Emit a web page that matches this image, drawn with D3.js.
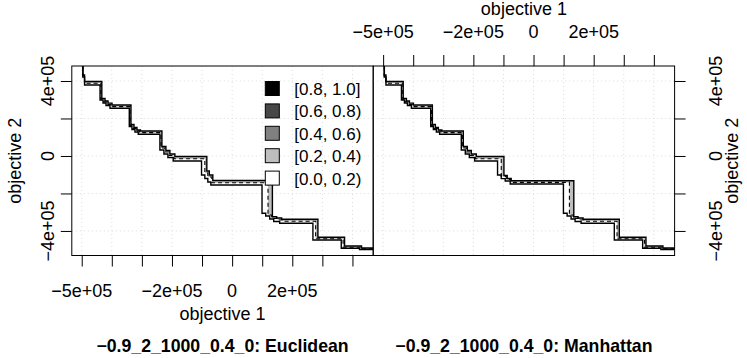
<!DOCTYPE html>
<html>
<head>
<meta charset="utf-8">
<script src="https://cdn.jsdelivr.net/npm/d3@7"></script>
<style>
  body { margin: 0; background: #fff; }
  text { font-family: "Liberation Sans", Arial, Helvetica, sans-serif; }
</style>
</head>
<body>
<div id="chart"></div>
<script>
// axis ticks / labels
const xTicks = [-5e5, -4e5, -3e5, -2e5, -1e5, 0, 1e5, 2e5, 3e5, 4e5];
const xTickLabels = [-5e5, -2e5, 0, 2e5];
const yTicks = [-4e5, -2e5, 0, 2e5, 4e5];
const yTickLabels = [-4e5, 0, 4e5];

const levels = ["[0.8, 1.0]", "[0.6, 0.8)", "[0.4, 0.6)", "[0.2, 0.4)", "[0.0, 0.2)"];
const levelColors = ["#000000", "#474747", "#808080", "#bebebe", "#ffffff"];
const panelTitles = ["\u22120.9_2_1000_0.4_0: Euclidean", "\u22120.9_2_1000_0.4_0: Manhattan"];

// attainment surfaces (objective 1, objective 2)
const euclidBest = [[-496500,421500],[-490600,378900],[-439100,298800],[-429200,282800],[-419200,269500],[-406000,254500],
  [-341900,156300],[-333000,141400],[-323000,128100],[-312100,115800],[-240100,32000],[-226800,10700],[-213500,-8000],
  [-195900,-26700],[-101700,-101400],[-90700,-120100],[-80800,-138700],[-70800,-154700],[99400,-305800],[111700,-320200],
  [124900,-336200],[138200,-349500],[158100,-359100],[268600,-448200],[362800,-492500],[423500,-498900]];
const euclidMedian = [[-496200,426900],[-490600,387900],[-436500,302600],[-425900,288100],[-415900,274800],[-402600,263100],
  [-339600,162700],[-329600,146700],[-319700,133400],[-308100,124300],[-236700,42700],[-223500,21300],[-210200,2700],
  [-193600,-14900],[-90700,-90700],[-80800,-112100],[-67500,-143000],[119300,-314800],[131600,-333500],[151500,-341500],
  [168100,-348400],[277600,-441300],[368800,-486600],[426900,-495200]];
const euclidWorst = [[-495900,432200],[-490600,397500],[-433200,306800],[-422500,293500],[-412600,281700],[-399300,272100],
  [-336300,168100],[-326300,152100],[-316400,138700],[-304800,133400],[-233400,50700],[-220100,29300],[-206900,10700],
  [-190300,-2700],[-84100,-80000],[-75800,-101400],[-64200,-130700],[133900,-323900],[148100,-330800],[164700,-337800],
  [285200,-433800],[373800,-480200],[430200,-490900]];

const manhatBest = [[-496500,421500],[-490600,378900],[-439100,298800],[-429200,282800],[-419200,269500],[-406000,254500],
  [-341900,156300],[-333000,141400],[-323000,128100],[-312100,115800],[-240100,32000],[-226800,10700],[-213500,-8000],
  [-195900,-26700],[-119600,-101400],[-107300,-120600],[-94100,-133400],[-77500,-149400],[99400,-305800],[111700,-320200],
  [124900,-336200],[138200,-349500],[158100,-359100],[268600,-448200],[362800,-492500],[423500,-498900]];
const manhatMedian = [[-496200,426900],[-490600,387900],[-436500,302600],[-425900,288100],[-415900,274800],[-402600,263100],
  [-339600,162700],[-329600,146700],[-319700,133400],[-308100,124300],[-236700,42700],[-223500,21300],[-210200,2700],
  [-193600,-14900],[-107300,-109400],[-90700,-125400],[-75800,-140900],[119300,-314800],[131600,-333500],[151500,-341500],
  [168100,-348400],[277600,-441300],[368800,-486600],[426900,-495200]];
const manhatWorst = [[-495900,432200],[-490600,397500],[-433200,306800],[-422500,293500],[-412600,281700],[-399300,272100],
  [-336300,168100],[-326300,152100],[-316400,138700],[-304800,133400],[-233400,50700],[-220100,29300],[-206900,10700],
  [-190300,-2700],[-98400,-104100],[-87400,-120100],[-74200,-131800],[133900,-323900],[148100,-330800],[164700,-337800],
  [285200,-433800],[373800,-480200],[430200,-490900]];

const panels = [
  {best: euclidBest, median: euclidMedian, worst: euclidWorst, title: panelTitles[0]},
  {best: manhatBest, median: manhatMedian, worst: manhatWorst, title: panelTitles[1]}
];

const width = 747, height = 358;
const panelX = [71.8, 373.2], panelY = 66, pw = 301.4, ph = 189.5;
const fs = 18;

const svg = d3.select("#chart").append("svg")
  .attr("width", width).attr("height", height);
svg.append("rect").attr("width", width).attr("height", height).attr("fill", "#fff");

const x = d3.scaleLinear().domain([-5.33e5, 4.69e5]).range([0, pw]);
const y = d3.scaleLinear().domain([-5.31e5, 4.8e5]).range([ph, 0]);

const fmt = d => d === 0 ? "0" : (d < 0 ? "\u2212" : "") + Math.abs(d / 1e5) + "e+05";

// step surface: down to each point, then across to the next one
function surface(pts) {
  const [x0, x1] = x.domain(), yTop = y.domain()[1];
  const v = [[pts[0][0], yTop]];
  pts.forEach((p, i) => {
    v.push(p);
    v.push([i < pts.length - 1 ? pts[i + 1][0] : x1, p[1]]);
  });
  return v;
}
const line = d3.line().x(d => x(d[0])).y(d => y(d[1]));

panels.forEach((pan, i) => {
  const g = svg.append("g").attr("transform", `translate(${panelX[i]},${panelY})`);
  g.append("clipPath").attr("id", "clip" + i)
    .append("rect").attr("width", pw).attr("height", ph);
  const inner = g.append("g").attr("clip-path", `url(#clip${i})`);

  // grid
  inner.selectAll(".gx").data(xTicks).join("line")
    .attr("x1", d => x(d)).attr("x2", d => x(d)).attr("y1", 0).attr("y2", ph)
    .attr("stroke", "#dcdcdc").attr("stroke-dasharray", "1,3");
  inner.selectAll(".gy").data(yTicks).join("line")
    .attr("y1", d => y(d)).attr("y2", d => y(d)).attr("x1", 0).attr("x2", pw)
    .attr("stroke", "#dcdcdc").attr("stroke-dasharray", "1,3");

  // areas between surfaces
  const sb = surface(pan.best), sm = surface(pan.median), sw = surface(pan.worst);
  inner.append("path").attr("d", line(sb.concat(sm.slice().reverse())) + "Z")
    .attr("fill", levelColors[4]);
  inner.append("path").attr("d", line(sm.concat(sw.slice().reverse())) + "Z")
    .attr("fill", levelColors[3]);

  // lines
  inner.append("path").attr("d", line(sb)).attr("fill", "none")
    .attr("stroke", "#000").attr("stroke-width", 1.4);
  inner.append("path").attr("d", line(sw)).attr("fill", "none")
    .attr("stroke", "#000").attr("stroke-width", 1.4);
  inner.append("path").attr("d", line(sm)).attr("fill", "none")
    .attr("stroke", "#000").attr("stroke-width", 1.1).attr("stroke-dasharray", "4,3");

  if (i === 0) {
    const lg = g.append("g").attr("transform", "translate(193.5,15.5)");
    levels.forEach((lab, k) => {
      lg.append("rect").attr("x", 0).attr("y", k * 22.4).attr("width", 14).attr("height", 14)
        .attr("fill", levelColors[k]).attr("stroke", "#000").attr("stroke-width", 1);
      lg.append("text").attr("x", 29).attr("y", k * 22.4 + 13.5).attr("font-size", 17).text(lab);
    });
  }

  g.append("rect").attr("width", pw).attr("height", ph)
    .attr("fill", "none").attr("stroke", "#000").attr("stroke-width", 1);

  // axes
  if (i === 0) {
    const ax = g.append("g").attr("transform", `translate(0,${ph})`)
      .call(d3.axisBottom(x).tickValues(xTicks).tickSize(11).tickFormat(""));
    const ay = g.append("g").call(d3.axisLeft(y).tickValues(yTicks).tickSize(11).tickFormat(""));
    [ax, ay].forEach(a => { a.select(".domain").remove(); a.selectAll("line").attr("stroke", "#000"); });
    g.selectAll(".xl").data(xTickLabels).join("text")
      .attr("x", d => x(d)).attr("y", 297 - panelY).attr("text-anchor", "middle")
      .attr("font-size", fs).text(fmt);
    g.selectAll(".yl").data(yTickLabels).join("text")
      .attr("transform", d => `translate(${53.5 - panelX[i]},${y(d)}) rotate(-90)`)
      .attr("text-anchor", "middle").attr("font-size", fs).text(fmt);
  } else {
    const ax = g.append("g").call(d3.axisTop(x).tickValues(xTicks).tickSize(11).tickFormat(""));
    const ay = g.append("g").attr("transform", `translate(${pw},0)`)
      .call(d3.axisRight(y).tickValues(yTicks).tickSize(11).tickFormat(""));
    [ax, ay].forEach(a => { a.select(".domain").remove(); a.selectAll("line").attr("stroke", "#000"); });
    g.selectAll(".xl").data(xTickLabels).join("text")
      .attr("x", d => x(d)).attr("y", 37.5 - panelY).attr("text-anchor", "middle")
      .attr("font-size", fs).text(fmt);
    g.selectAll(".yl").data(yTickLabels).join("text")
      .attr("transform", d => `translate(${721.7 - panelX[i]},${y(d)}) rotate(-90)`)
      .attr("text-anchor", "middle").attr("font-size", fs).text(fmt);
  }

  svg.append("text").attr("x", panelX[i] + pw / 2).attr("y", 352)
    .attr("text-anchor", "middle").attr("font-size", 17.7).attr("font-weight", "bold")
    .text(pan.title);
});

// axis titles
svg.append("text").attr("x", panelX[0] + pw / 2).attr("y", 320)
  .attr("text-anchor", "middle").attr("font-size", fs).text("objective 1");
svg.append("text").attr("x", panelX[1] + pw / 2).attr("y", 15)
  .attr("text-anchor", "middle").attr("font-size", fs).text("objective 1");
svg.append("text").attr("transform", `translate(21.4,${panelY + ph / 2}) rotate(-90)`)
  .attr("text-anchor", "middle").attr("font-size", fs).text("objective 2");
svg.append("text").attr("transform", `translate(738,${panelY + ph / 2}) rotate(-90)`)
  .attr("text-anchor", "middle").attr("font-size", fs).text("objective 2");
</script>
</body>
</html>
